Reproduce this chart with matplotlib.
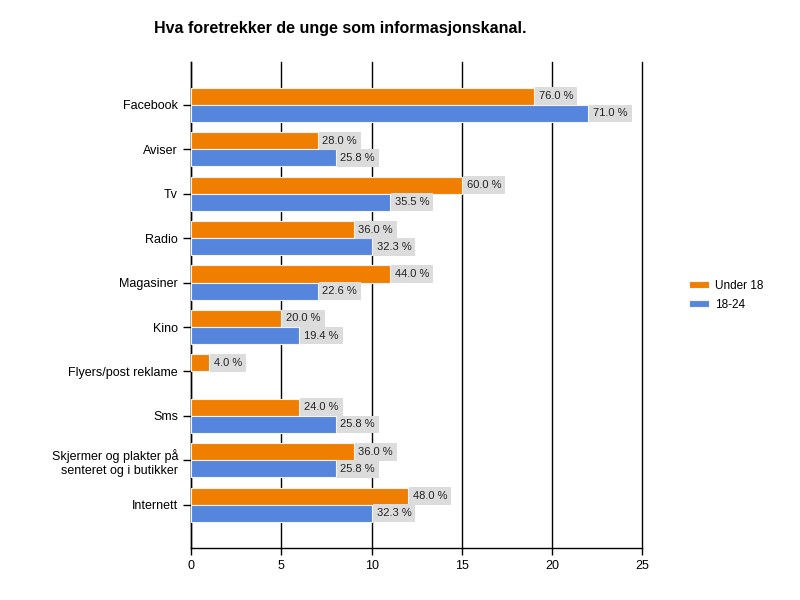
import matplotlib.pyplot as plt
import numpy as np

plt.rcParams['font.family'] = ['Liberation Sans', 'DejaVu Sans']

categories = ['Facebook', 'Aviser', 'Tv', 'Radio', 'Magasiner', 'Kino',
              'Flyers/post reklame', 'Sms',
              'Skjermer og plakter på\nsenteret og i butikker', 'Internett']
under18 = [19, 7, 15, 9, 11, 5, 1, 6, 9, 12]
age18_24 = [22, 8, 11, 10, 7, 6, 0, 8, 8, 10]
under18_pct = ['76.0 %', '28.0 %', '60.0 %', '36.0 %', '44.0 %', '20.0 %',
               '4.0 %', '24.0 %', '36.0 %', '48.0 %']
age18_24_pct = ['71.0 %', '25.8 %', '35.5 %', '32.3 %', '22.6 %', '19.4 %',
                '', '25.8 %', '25.8 %', '32.3 %']

fig = plt.figure(figsize=(8, 6), dpi=100)
ax = fig.add_axes([0.239, 0.087, 0.564, 0.81])

y = np.arange(len(categories))
h = 0.385
b1 = ax.barh(y - h / 2, under18, height=h, color='#F07E00',
             edgecolor='#f4f4f4', linewidth=0.8, label='Under 18', zorder=3)
b2 = ax.barh(y + h / 2, age18_24, height=h, color='#5585DD',
             edgecolor='#f4f4f4', linewidth=0.8, label='18-24', zorder=3)
for rect in b2:
    if rect.get_width() == 0:
        rect.set_visible(False)

box = dict(boxstyle='square,pad=0.35', fc='#dcdcdc', ec='none')
for bars, labels in [(b1, under18_pct), (b2, age18_24_pct)]:
    for rect, lab in zip(bars, labels):
        if not lab:
            continue
        ax.annotate(lab, (rect.get_width(), rect.get_y() + rect.get_height() / 2),
                    xytext=(3.5, 0), textcoords='offset points',
                    ha='left', va='center', fontsize=8, color='#222222',
                    bbox=box, zorder=4)

ax.set_xlim(0, 25)
ax.set_ylim(9.97, -0.97)
ax.set_xticks([0, 5, 10, 15, 20, 25])
ax.set_yticks(y)
ax.set_yticklabels(categories, fontsize=9)
ax.tick_params(axis='x', labelsize=9, length=5, width=1)
ax.tick_params(axis='y', length=6, width=1)
ax.xaxis.grid(True, color='black', linewidth=1, zorder=0)
for line in ax.get_xgridlines():
    line.set_clip_on(False)
ax.spines['top'].set_visible(False)
ax.spines['right'].set_visible(False)
for s in ['left', 'bottom']:
    ax.spines[s].set_linewidth(1)

fig.text(0.425, 0.953, 'Hva foretrekker de unge som informasjonskanal.',
         ha='center', va='center', fontsize=11.5, fontweight='bold')

fig.legend(handles=[b1, b2], loc='center left', bbox_to_anchor=(0.848, 0.508),
           frameon=False, fontsize=8.5, handlelength=1.7, handleheight=0.6,
           handletextpad=0.5, labelspacing=0.6)

plt.savefig('out.png', dpi=100)
